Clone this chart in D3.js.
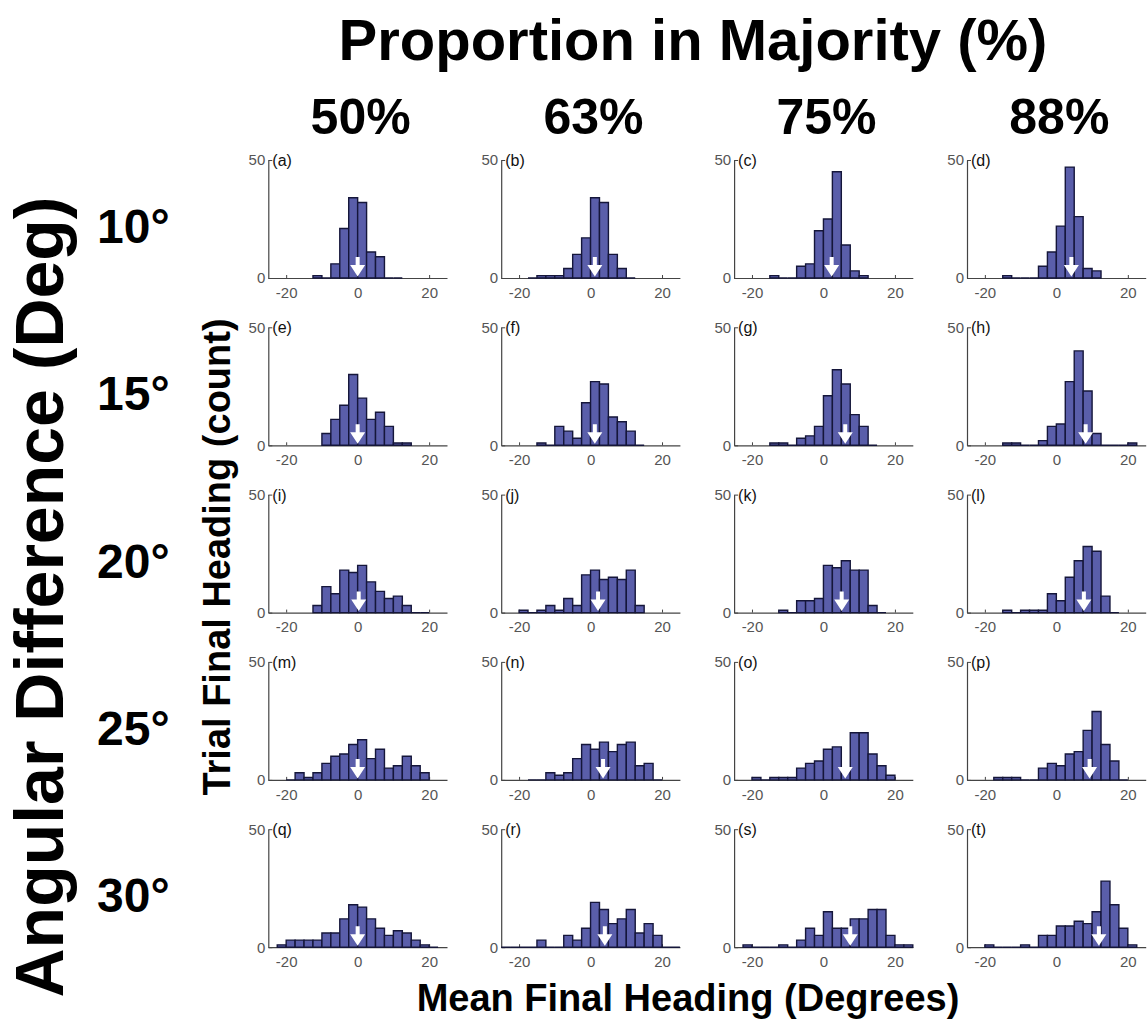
<!DOCTYPE html>
<html lang="en">
<head>
<meta charset="utf-8">
<title>Final heading histograms</title>
<script src="https://d3js.org/d3.v7.min.js"></script>
<style>
  body { margin: 0; background: #fff; }
  text { font-family: "Liberation Sans", Arial, sans-serif; }
</style>
</head>
<body>
<script>

// column / row headers
var propLabels  = ["50%", "63%", "75%", "88%"];
var angleLabels = ["10\u00b0", "15\u00b0", "20\u00b0", "25\u00b0", "30\u00b0"];
var panelTags   = ["a","b","c","d","e","f","g","h","i","j","k","l","m","n","o","p","q","r","s","t"];

var binWidth = 2.5;   // degrees

// left edge of the first bin of each panel (a..t)
var binStart = [-12.5, -17.5, -15, -15,
                -10,   -15,   -15, -15,
                -12.5, -20,   -12.5, -15,
                -20,   -17.5, -20, -17.5,
                -22.5, -25,   -22.5, -20];

// counts per 2.5 deg bin, one row of the grid per array
var counts10 = [
  [1,0,6,21,34,32,11,9,0,0],
  [0,1,1,1,4,10,17,34,32,10,4,0],
  [1,0,0,5,6,20,25,45,14,3,1],
  [1,0,0,0,5,11,22,47,26,4,3]
];
var counts15 = [
  [5,11,17,30,20,11,14,8,1,1],
  [1,0,8,6,3,18,27,26,12,10,6,0],
  [1,1,0,3,4,8,21,32,26,13,8,0],
  [1,1,0,0,2,8,9,27,40,23,5,0,0,0,1]
];
var counts20 = [
  [3,11,8,18,17,20,13,9,6,7,3,0,0],
  [1,0,1,3,1,6,3,16,18,14,15,14,18,3],
  [1,0,5,5,6,20,19,22,18,18,3,0],
  [1,0,1,1,1,8,5,15,22,28,26,7,0]
];
var counts25 = [
  [0,3,1,3,7,10,11,15,17,9,13,5,6,10,6,3],
  [0,0,3,2,3,9,15,13,16,12,15,16,6,7,0],
  [1,0,1,1,1,5,7,8,13,14,4,20,20,11,6,2],
  [1,1,1,0,0,5,7,6,11,12,21,29,15,8,0]
];
var counts30 = [
  [1,3,3,3,3,6,6,12,18,17,12,8,5,7,6,3,1,0],
  [0,0,0,0,3,0,0,5,3,8,19,16,10,12,16,6,10,5,0,0],
  [1,0,0,0,1,0,3,8,5,15,8,8,12,12,16,16,5,1,1],
  [1,0,0,0,1,0,5,5,9,9,11,10,15,28,18,8,1]
];
var countRows = [counts10, counts15, counts20, counts25, counts30];

// mean heading (white arrow) of each panel, degrees
var arrowMean = [0, 1.2, 2.3, 4.2,
                 0, 1.2, 6.1, 8.2,
                 0.3, 2.1, 5.1, 7.7,
                 0, 3.5, 6.1, 9.3,
                 0, 4.0, 7.5, 11.9];

var xTicks = [-20, 0, 20],
    yTicks = [0, 50];

var w = 1148,
    h = 1021,
    panelW = 178.7,
    panelH = 118,
    firstLeft = 268.3,
    firstTop = 160,
    colStep = 232.9,
    rowStep = 167.3;

var barFill = "#5a5eaa",
    barStroke = "#15163a";

var svg = d3.select("body")
    .append("svg")
    .attr("width", w)
    .attr("height", h);

svg.append("rect").attr("width", w).attr("height", h).attr("fill", "#fff");

var x = d3.scaleLinear().domain([-25, 25]).range([0, panelW]);
var y = d3.scaleLinear().domain([0, 50]).range([panelH, 0]);

// big headings
svg.append("text")
    .attr("x", 693).attr("y", 60)
    .attr("text-anchor", "middle")
    .attr("font-size", 58).attr("font-weight", "bold")
    .text("Proportion in Majority (%)");

svg.selectAll(".colhead")
    .data(propLabels)
    .enter().append("text")
    .attr("class", "colhead")
    .attr("x", function(d, i) { return firstLeft + i * colStep + x(0) + 3; })
    .attr("y", 134)
    .attr("text-anchor", "middle")
    .attr("font-size", 50).attr("font-weight", "bold")
    .text(function(d) { return d; });

svg.selectAll(".rowhead")
    .data(angleLabels)
    .enter().append("text")
    .attr("class", "rowhead")
    .attr("x", 97)
    .attr("y", function(d, i) { return firstTop + i * rowStep + panelH - 35; })
    .attr("font-size", 48).attr("font-weight", "bold")
    .text(function(d) { return d; });

svg.append("text")
    .attr("transform", "translate(63,597) rotate(-90)")
    .attr("text-anchor", "middle")
    .attr("font-size", 68).attr("font-weight", "bold")
    .text("Angular Difference (Deg)");

svg.append("text")
    .attr("transform", "translate(230,557) rotate(-90)")
    .attr("text-anchor", "middle")
    .attr("font-size", 38).attr("font-weight", "bold")
    .text("Trial Final Heading (count)");

svg.append("text")
    .attr("x", 688).attr("y", 1011)
    .attr("text-anchor", "middle")
    .attr("font-size", 38).attr("font-weight", "bold")
    .text("Mean Final Heading (Degrees)");

// one small histogram per cell
countRows.forEach(function(row, r) {
  row.forEach(function(vals, c) {
    var k = r * 4 + c;
    var g = svg.append("g")
        .attr("transform", "translate(" + (firstLeft + c * colStep) + "," + (firstTop + r * rowStep) + ")");

    var yAxis = g.append("g")
        .call(d3.axisLeft(y).tickValues(yTicks).tickFormat(function(d) { return String(d); })
              .tickSizeInner(-4).tickSizeOuter(0).tickPadding(3));
    var xAxis = g.append("g")
        .attr("transform", "translate(0," + panelH + ")")
        .call(d3.axisBottom(x).tickValues(xTicks).tickFormat(function(d) { return String(d); })
              .tickSizeInner(-3).tickSizeOuter(0).tickPadding(9));

    [yAxis, xAxis].forEach(function(a) {
      a.select(".domain").attr("stroke", "#444").attr("stroke-width", 1.2);
      a.selectAll(".tick line").attr("stroke", "#444");
      a.selectAll(".tick text")
          .attr("fill", "#555")
          .attr("font-size", 15)
          .attr("font-family", "'Liberation Sans', Arial, sans-serif");
    });

    var bins = vals.map(function(v, i) {
      return { x0: binStart[k] + i * binWidth, n: v };
    });

    g.selectAll(".bar")
        .data(bins)
        .enter().append("path")
        .attr("class", "bar")
        .attr("d", function(d) {
          var x0 = x(d.x0), x1 = x(d.x0 + binWidth);
          return "M" + x0 + "," + y(0) + "V" + y(d.n) + "H" + x1 + "V" + y(0) + "Z";
        })
        .attr("fill", barFill)
        .attr("stroke", barStroke)
        .attr("stroke-width", 1.4);

    // white arrow at the mean heading
    var ax = x(arrowMean[k]), b = y(0);
    var pts = [[ax - 2, b - 21], [ax + 2, b - 21], [ax + 2, b - 13], [ax + 7.5, b - 13],
               [ax, b - 1.5], [ax - 7.5, b - 13], [ax - 2, b - 13]];
    g.append("path")
        .attr("d", d3.line()(pts) + "Z")
        .attr("fill", "#fff");

    g.append("text")
        .attr("x", 4).attr("y", 6)
        .attr("font-size", 16)
        .attr("fill", "#111")
        .text("(" + panelTags[k] + ")");
  });
});

</script>
</body>
</html>
